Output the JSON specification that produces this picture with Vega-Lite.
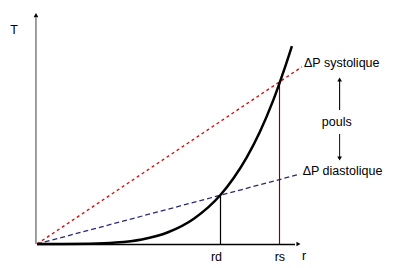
{
  "$schema": "https://vega.github.io/schema/vega-lite/v6.json",
  "width": 262,
  "height": 230,
  "autosize": "none",
  "padding": {"left": 37, "top": 14, "right": 95, "bottom": 24},
  "background": "white",
  "config": {"view": {"stroke": null}},
  "datasets": {
    "curve": [
      {"r": 0, "T": 0}, {"r": 1, "T": 0.0}, {"r": 2, "T": 0.01}, {"r": 3, "T": 0.06},
      {"r": 4, "T": 0.2}, {"r": 5, "T": 0.51}, {"r": 6, "T": 1.11}, {"r": 7, "T": 2.13},
      {"r": 7.5, "T": 2.86}, {"r": 8, "T": 3.76}, {"r": 8.5, "T": 4.86}, {"r": 9, "T": 6.2},
      {"r": 9.27, "T": 7.04}, {"r": 9.5, "T": 7.8}, {"r": 9.73, "T": 8.6}
    ],
    "segments": [
      {"name": "yaxis", "x": -0.04, "y": 0, "x2": -0.04, "y2": 9.85},
      {"name": "xaxis", "x": 0, "y": -0.02, "x2": 9.85, "y2": -0.02},
      {"name": "systolique", "x": 0, "y": 0, "x2": 10.11, "y2": 7.7},
      {"name": "diastolique", "x": 0, "y": 0, "x2": 10.04, "y2": 3.04},
      {"name": "rd", "x": 7.004, "y": 0, "x2": 7.004, "y2": 2.13},
      {"name": "rs", "x": 9.256, "y": 0, "x2": 9.256, "y2": 7.0},
      {"name": "up", "x": 11.55, "y": 5.83, "x2": 11.55, "y2": 7.1},
      {"name": "down", "x": 11.55, "y": 4.78, "x2": 11.55, "y2": 3.77}
    ],
    "heads": [
      {"name": "yaxis", "x": -0.04, "y": 9.95, "dir": "up"},
      {"name": "xaxis", "x": 9.98, "y": 0, "dir": "right"},
      {"name": "up", "x": 11.55, "y": 7.15, "dir": "up"},
      {"name": "down", "x": 11.55, "y": 3.72, "dir": "down"}
    ],
    "centered": [
      {"label": "T", "x": -0.88, "y": 9.3},
      {"label": "r", "x": 10.19, "y": -0.52},
      {"label": "rd", "x": 6.85, "y": -0.55},
      {"label": "rs", "x": 9.27, "y": -0.55},
      {"label": "pouls", "x": 11.44, "y": 5.32}
    ],
    "left": [
      {"label": "ΔP systolique", "x": 10.19, "y": 7.87},
      {"label": "ΔP diastolique", "x": 10.14, "y": 3.17}
    ]
  },
  "layer": [
    {
      "data": {"name": "segments"},
      "mark": {"type": "rule"},
      "encoding": {
        "x": {"field": "x", "type": "quantitative", "scale": {"domain": [0, 10], "nice": false, "zero": false}, "axis": null},
        "y": {"field": "y", "type": "quantitative", "scale": {"domain": [0, 10], "nice": false, "zero": false}, "axis": null},
        "x2": {"field": "x2"},
        "y2": {"field": "y2"},
        "color": {"field": "name", "type": "nominal", "legend": null,
          "scale": {"domain": ["yaxis", "xaxis", "systolique", "diastolique", "rd", "rs", "up", "down"],
                    "range": ["#7f7f7f", "#000000", "#d01010", "#2a2a72", "#000000", "#800000", "#000000", "#000000"]}},
        "strokeDash": {"field": "name", "type": "nominal", "legend": null,
          "scale": {"domain": ["yaxis", "xaxis", "systolique", "diastolique", "rd", "rs", "up", "down"],
                    "range": [[1, 0], [1, 0], [3, 3], [5, 3], [1, 0], [1, 0], [1, 0], [1, 0]]}},
        "strokeWidth": {"field": "name", "type": "nominal", "legend": null,
          "scale": {"domain": ["yaxis", "xaxis", "systolique", "diastolique", "rd", "rs", "up", "down"],
                    "range": [1.5, 1, 1, 1, 1, 1, 1, 1]}}
      }
    },
    {
      "data": {"name": "curve"},
      "mark": {"type": "line", "interpolate": "monotone", "color": "#000000", "strokeWidth": 2.5},
      "encoding": {
        "x": {"field": "r", "type": "quantitative"},
        "y": {"field": "T", "type": "quantitative"}
      }
    },
    {
      "data": {"name": "heads"},
      "mark": {"type": "point", "filled": true, "color": "#000000", "opacity": 1, "size": 22},
      "encoding": {
        "x": {"field": "x", "type": "quantitative"},
        "y": {"field": "y", "type": "quantitative"},
        "shape": {"field": "dir", "type": "nominal", "legend": null,
          "scale": {"domain": ["up", "right", "down"], "range": ["triangle-up", "triangle-right", "triangle-down"]}}
      }
    },
    {
      "data": {"name": "centered"},
      "mark": {"type": "text", "align": "center", "baseline": "middle", "font": "Liberation Sans", "fontSize": 12.5, "color": "#000000"},
      "encoding": {
        "x": {"field": "x", "type": "quantitative"},
        "y": {"field": "y", "type": "quantitative"},
        "text": {"field": "label"}
      }
    },
    {
      "data": {"name": "left"},
      "mark": {"type": "text", "align": "left", "baseline": "middle", "font": "Liberation Sans", "fontSize": 12.5, "color": "#000000"},
      "encoding": {
        "x": {"field": "x", "type": "quantitative"},
        "y": {"field": "y", "type": "quantitative"},
        "text": {"field": "label"}
      }
    }
  ]
}
